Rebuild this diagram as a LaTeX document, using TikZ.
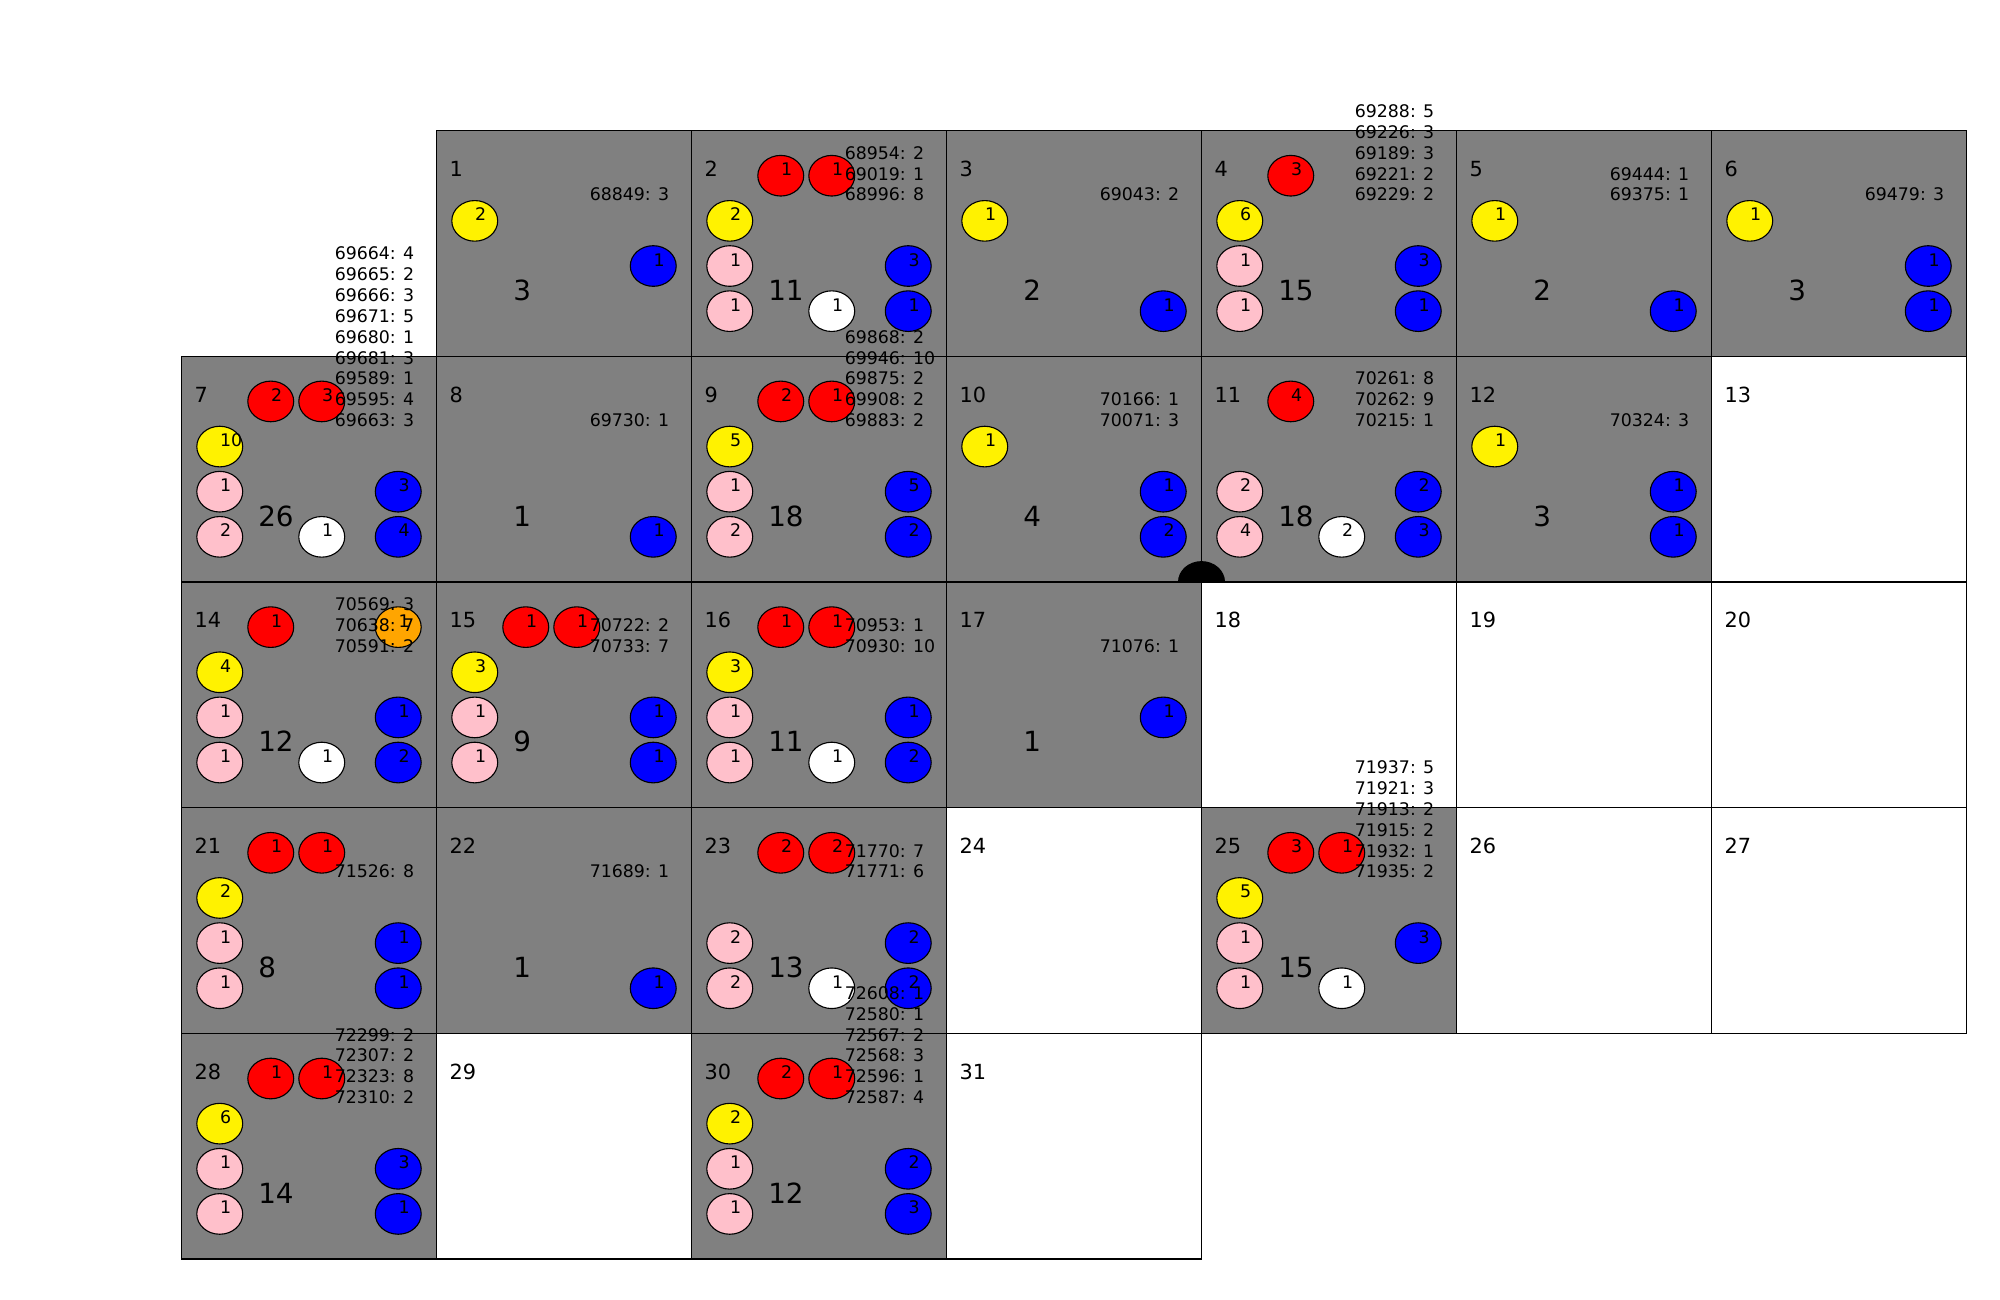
\documentclass[tikz,border=0pt]{standalone}
\usepackage{fontspec}
\setmainfont{DejaVu Sans}
\usepackage{xcolor}
\usetikzlibrary{shapes.geometric}
\definecolor{mplpink}{HTML}{FFC0CB}
\definecolor{mplorange}{HTML}{FFA500}
\newcommand\jobfont{\fontsize{12.5}{15}\selectfont}
\newcommand\dayfont{\fontsize{15}{18}\selectfont}
\newcommand\totfont{\fontsize{20}{24}\selectfont}
\tikzset{
  busy/.style={draw, fill=gray, line width=1pt, inner sep=0pt, outer sep=0pt, minimum width=183.6pt, minimum height=162.5pt},
  free/.style={busy, fill=white},
  daynum/.style={anchor=base west, inner sep=0pt, font=\dayfont},
  total/.style={anchor=base west, inner sep=0pt, font=\totfont},
  jobs/.style={anchor=south west, inner sep=0pt, align=left, text depth=0pt, font=\jobfont},
  chip/.style={ellipse, draw, line width=0.8pt, inner sep=0pt, outer sep=0pt, minimum width=33.05pt, minimum height=29.25pt},
  chipnum/.style={anchor=base west, inner sep=0pt, font=\jobfont},
  ra/.style={chip, fill=red, at={(0.35,-0.2)}},
  rb/.style={chip, fill=red, at={(0.55,-0.2)}},
  og/.style={chip, fill=mplorange, at={(0.85,-0.2)}},
  ye/.style={chip, fill=yellow, at={(0.15,-0.4)}},
  pa/.style={chip, fill=mplpink, at={(0.15,-0.6)}},
  pb/.style={chip, fill=mplpink, at={(0.15,-0.8)}},
  wh/.style={chip, fill=white, at={(0.55,-0.8)}},
  ba/.style={chip, fill=blue, at={(0.85,-0.6)}},
  bb/.style={chip, fill=blue, at={(0.85,-0.8)}},
}
\begin{document}
\begin{tikzpicture}[x=183.6pt, y=162.5pt]
  \useasboundingbox (-130.68pt,94.03pt) rectangle (1309.32pt,-841.97pt);

  % days with entries
  \foreach \d/\tot/\chips in {
    1/3/{ye/2,ba/1},
    2/11/{ra/1,rb/1,ye/2,pa/1,pb/1,wh/1,ba/3,bb/1},
    3/2/{ye/1,bb/1},
    4/15/{ra/3,ye/6,pa/1,pb/1,ba/3,bb/1},
    5/2/{ye/1,bb/1},
    6/3/{ye/1,ba/1,bb/1},
    7/26/{ra/2,rb/3,ye/10,pa/1,pb/2,wh/1,ba/3,bb/4},
    8/1/{bb/1},
    9/18/{ra/2,rb/1,ye/5,pa/1,pb/2,ba/5,bb/2},
    10/4/{ye/1,ba/1,bb/2},
    11/18/{ra/4,pa/2,pb/4,wh/2,ba/2,bb/3},
    12/3/{ye/1,ba/1,bb/1},
    14/12/{ra/1,og/1,ye/4,pa/1,pb/1,wh/1,ba/1,bb/2},
    15/9/{ra/1,rb/1,ye/3,pa/1,pb/1,ba/1,bb/1},
    16/11/{ra/1,rb/1,ye/3,pa/1,pb/1,wh/1,ba/1,bb/2},
    17/1/{ba/1},
    21/8/{ra/1,rb/1,ye/2,pa/1,pb/1,ba/1,bb/1},
    22/1/{bb/1},
    23/13/{ra/2,rb/2,pa/2,pb/2,wh/1,ba/2,bb/2},
    25/15/{ra/3,rb/1,ye/5,pa/1,pb/1,wh/1,ba/3},
    28/14/{ra/1,rb/1,ye/6,pa/1,pb/1,ba/3,bb/1},
    30/12/{ra/2,rb/1,ye/2,pa/1,pb/1,ba/2,bb/3}}{
    \pgfmathtruncatemacro\cx{mod(\d,7)}
    \pgfmathtruncatemacro\ry{div(\d,7)}
    \begin{scope}[shift={(\cx,-\ry)}]
      \node[busy] (d\d) at (0.5,-0.5) {};
      \node[daynum] (d\d-num) at (0.05,-0.203) {\d};
      \node[total] (d\d-tot) at (0.3,-0.752) {\tot};
      \foreach \s/\n in \chips {
        \node[\s] (d\d-\s) {};
        \node[chipnum] (d\d-\s-n) at (d\d-\s.center) {\n};
      }
    \end{scope}
  }

  % empty days
  \foreach \d in {13,18,19,20,24,26,27,29,31}{
    \pgfmathtruncatemacro\cx{mod(\d,7)}
    \pgfmathtruncatemacro\ry{div(\d,7)}
    \begin{scope}[shift={(\cx,-\ry)}]
      \node[free] (d\d) at (0.5,-0.5) {};
      \node[daynum] (d\d-num) at (0.05,-0.203) {\d};
    \end{scope}
  }

  \filldraw[line width=0.8pt] (d11.south west) ++(-16.52pt,0)
    arc[start angle=180, end angle=0, x radius=16.52pt, y radius=14.63pt] -- cycle;

  % job counts
  \foreach \d/\txt in {
    1/{68849: 3},
    2/{68954: 2\\69019: 1\\68996: 8},
    3/{69043: 2},
    4/{69288: 5\\69226: 3\\69189: 3\\69221: 2\\69229: 2},
    5/{69444: 1\\69375: 1},
    6/{69479: 3},
    7/{69664: 4\\69665: 2\\69666: 3\\69671: 5\\69680: 1\\69681: 3\\69589: 1\\69595: 4\\69663: 3},
    8/{69730: 1},
    9/{69868: 2\\69946: 10\\69875: 2\\69908: 2\\69883: 2},
    10/{70166: 1\\70071: 3},
    11/{70261: 8\\70262: 9\\70215: 1},
    12/{70324: 3},
    14/{70569: 3\\70638: 7\\70591: 2},
    15/{70722: 2\\70733: 7},
    16/{70953: 1\\70930: 10},
    17/{71076: 1},
    21/{71526: 8},
    22/{71689: 1},
    23/{71770: 7\\71771: 6},
    25/{71937: 5\\71921: 3\\71913: 2\\71915: 2\\71932: 1\\71935: 2},
    28/{72299: 2\\72307: 2\\72323: 8\\72310: 2},
    30/{72608: 1\\72580: 1\\72567: 2\\72568: 3\\72596: 1\\72587: 4}}
    \node[jobs] (d\d-jobs) at ([shift={(0.6,-0.3126)}]d\d.north west) {\txt};
\end{tikzpicture}
\end{document}
